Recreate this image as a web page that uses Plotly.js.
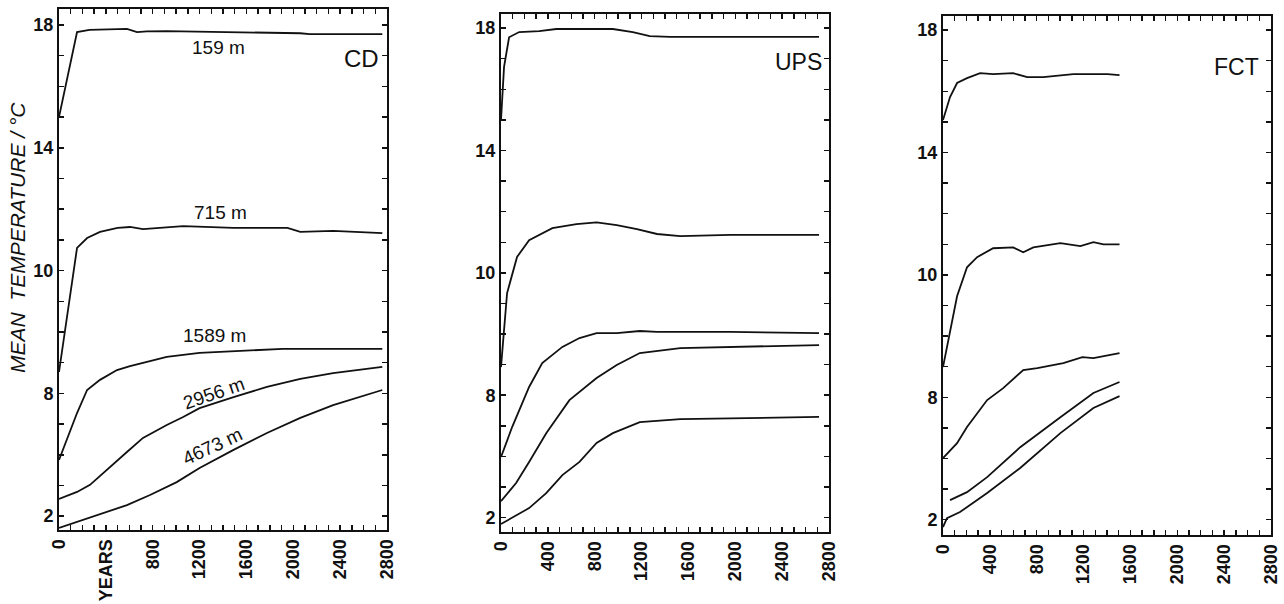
<!DOCTYPE html>
<html>
<head>
<meta charset="utf-8">
<script src="https://cdn.plot.ly/plotly-3.0.1.min.js"></script>
<style>html,body{margin:0;padding:0;background:#fff;}#chart{width:1284px;height:604px;}</style>
</head>
<body>
<div id="chart"></div>
<script>
// ---------------- DATA (years, mean temperature °C) ----------------
const panelNames = ["CD", "UPS", "FCT"];
const depthLabels = ["159 m", "715 m", "1589 m", "2956 m", "4673 m"];

// CD
const cdYears1 = [0, 154, 260, 580, 666, 750, 920, 1490, 2060, 2140, 2760];
const cdTemp1  = [15.0, 17.77, 17.84, 17.87, 17.77, 17.79, 17.8, 17.77, 17.73, 17.7, 17.7];
const cdYears2 = [0, 154, 240, 350, 500, 606, 717, 920, 1060, 1490, 1950, 2060, 2340, 2760];
const cdTemp2  = [6.7, 10.74, 11.06, 11.26, 11.39, 11.42, 11.35, 11.42, 11.45, 11.39, 11.39, 11.26, 11.29, 11.22];
const cdYears3 = [0, 154, 240, 350, 495, 606, 717, 920, 1200, 1490, 1910, 2340, 2760];
const cdTemp3  = [3.83, 5.36, 6.11, 6.44, 6.76, 6.89, 6.99, 7.19, 7.32, 7.38, 7.45, 7.45, 7.45];
const cdYears4 = [0, 154, 265, 410, 580, 717, 920, 1060, 1200, 1490, 1775, 2060, 2340, 2760];
const cdTemp4  = [2.56, 2.79, 3.02, 3.5, 4.09, 4.55, 4.97, 5.23, 5.52, 5.88, 6.21, 6.47, 6.66, 6.86];
const cdYears5 = [0, 154, 375, 580, 777, 1005, 1200, 1490, 1775, 2060, 2340, 2760];
const cdTemp5  = [1.62, 1.81, 2.1, 2.36, 2.69, 3.11, 3.57, 4.16, 4.71, 5.2, 5.62, 6.11];

// UPS
const upsYears1 = [0, 26, 69, 155, 326, 472, 670, 955, 1125, 1270, 1443, 1958, 2715];
const upsTemp1  = [15.0, 16.73, 17.7, 17.87, 17.9, 17.97, 17.97, 17.97, 17.87, 17.74, 17.71, 17.71, 17.71];
const upsYears2 = [0, 52, 137, 240, 438, 644, 816, 988, 1160, 1332, 1530, 1958, 2715];
const upsTemp2  = [6.92, 9.34, 10.52, 11.07, 11.46, 11.59, 11.65, 11.56, 11.43, 11.27, 11.2, 11.24, 11.24];
const upsYears3 = [0, 95, 240, 352, 524, 670, 816, 988, 1185, 1332, 1958, 2715];
const upsTemp3  = [3.98, 4.96, 6.27, 7.05, 7.58, 7.87, 8.03, 8.03, 8.1, 8.07, 8.07, 8.03];
const upsYears4 = [0, 129, 240, 386, 584, 816, 988, 1185, 1530, 1958, 2715];
const upsTemp4  = [2.54, 3.13, 3.82, 4.76, 5.84, 6.56, 6.99, 7.38, 7.54, 7.58, 7.64];
const upsYears5 = [0, 129, 240, 386, 524, 670, 816, 955, 1185, 1530, 1958, 2715];
const upsTemp5  = [1.79, 2.08, 2.31, 2.8, 3.39, 3.82, 4.44, 4.76, 5.12, 5.22, 5.25, 5.29];

// FCT
const fctYears1 = [0, 60, 120, 205, 317, 428, 599, 719, 856, 1002, 1113, 1284, 1404, 1507];
const fctTemp1  = [15.06, 15.81, 16.27, 16.43, 16.59, 16.56, 16.59, 16.46, 16.46, 16.53, 16.56, 16.56, 16.56, 16.53];
const fctYears2 = [0, 120, 205, 291, 428, 599, 685, 771, 1002, 1173, 1284, 1370, 1507];
const fctTemp2  = [6.99, 9.3, 10.25, 10.58, 10.87, 10.9, 10.74, 10.9, 11.04, 10.94, 11.07, 11.0, 11.0];
const fctYears3 = [0, 120, 205, 377, 514, 685, 805, 1027, 1190, 1284, 1507];
const fctTemp3  = [4.01, 4.5, 5.03, 5.91, 6.3, 6.89, 6.95, 7.12, 7.31, 7.28, 7.44];
const fctYears4 = [60, 205, 377, 659, 1002, 1284, 1507];
const fctTemp4  = [2.64, 2.9, 3.39, 4.37, 5.35, 6.14, 6.5];
const fctYears5 = [0, 34, 145, 377, 659, 1002, 1284, 1507];
const fctTemp5  = [1.76, 2.05, 2.25, 2.87, 3.69, 4.83, 5.65, 6.04];

// Axis ticks (labels as printed); tick marks every 100 years / every 1 °C
const yTickVals = [2, 3, 4, 5, 6, 7, 8, 9, 10, 11, 12, 13, 14, 15, 16, 17, 18];
const yTickText = ["2", "", "", "", "8", "", "", "", "10", "", "", "", "14", "", "", "", "18"];
const xTickVals = [0, 100, 200, 300, 400, 500, 600, 700, 800, 900, 1000, 1100, 1200, 1300, 1400,
                   1500, 1600, 1700, 1800, 1900, 2000, 2100, 2200, 2300, 2400, 2500, 2600, 2700, 2800];
const xTickTextCD = ["0", "", "", "", "YEARS", "", "", "", "800", "", "", "", "1200", "", "", "",
                     "1600", "", "", "", "2000", "", "", "", "2400", "", "", "", "2800"];
const xTickText = ["0", "", "", "", "400", "", "", "", "800", "", "", "", "1200", "", "", "",
                   "1600", "", "", "", "2000", "", "", "", "2400", "", "", "", "2800"];

// ---------------- PLOT ----------------
const W = 1284, H = 604;
const lineStyle = {color: "#111", width: 1.8};
const series = [
  [[cdYears1, cdTemp1], [cdYears2, cdTemp2], [cdYears3, cdTemp3], [cdYears4, cdTemp4], [cdYears5, cdTemp5]],
  [[upsYears1, upsTemp1], [upsYears2, upsTemp2], [upsYears3, upsTemp3], [upsYears4, upsTemp4], [upsYears5, upsTemp5]],
  [[fctYears1, fctTemp1], [fctYears2, fctTemp2], [fctYears3, fctTemp3], [fctYears4, fctTemp4], [fctYears5, fctTemp5]]
];
const traces = [];
series.forEach((grp, p) => {
  const sfx = p === 0 ? "" : String(p + 1);
  grp.forEach(([xs, ys]) => traces.push({
    x: xs, y: ys, type: "scatter", mode: "lines", line: lineStyle,
    xaxis: "x" + sfx, yaxis: "y" + sfx, showlegend: false, hoverinfo: "skip"
  }));
});

// pixel geometry of each panel: [left, right, top, bottom, yRange]
const geom = [
  [59, 387, 9, 530, [1.55, 18.52]],
  [501, 829, 14, 532, [1.53, 18.46]],
  [943, 1271, 16, 535, [1.50, 18.46]]
];
const FAM = "Liberation Sans, Arial, sans-serif";
const layout = {
  width: W, height: H, margin: {l: 0, r: 0, t: 0, b: 0},
  paper_bgcolor: "#fff", plot_bgcolor: "#fff", showlegend: false,
  annotations: [], font: {family: FAM, size: 18, color: "#111"}
};
geom.forEach((g, p) => {
  const sfx = p === 0 ? "" : String(p + 1);
  layout["xaxis" + sfx] = {
    domain: [g[0] / W, g[1] / W], range: [0, 2800], anchor: "y" + sfx,
    tickmode: "array", tickvals: xTickVals, ticktext: p === 0 ? xTickTextCD : xTickText,
    tickangle: -90, ticks: "inside", ticklen: 5, tickwidth: 1.5, tickcolor: "#111",
    showline: true, linecolor: "#111", linewidth: 2, mirror: "ticks",
    showgrid: false, zeroline: false, fixedrange: true,
    tickfont: {family: FAM, size: 18, color: "#111", weight: "bold"}
  };
  layout["yaxis" + sfx] = {
    domain: [1 - g[3] / H, 1 - g[2] / H], range: g[4], anchor: "x" + sfx,
    tickmode: "array", tickvals: yTickVals, ticktext: yTickText,
    ticks: "inside", ticklen: 5, tickwidth: 1.5, tickcolor: "#111",
    showline: true, linecolor: "#111", linewidth: 2, mirror: "ticks",
    showgrid: false, zeroline: false, fixedrange: true,
    tickfont: {family: FAM, size: 18, color: "#111", weight: "bold"}
  };
});

const A = layout.annotations;
const lblFont = {family: FAM, size: 19, color: "#111"};
// panel names
[[381, 58, 24], [824, 62, 23], [1261, 67, 23]].forEach((q, i) => A.push({
  xref: "paper", yref: "paper", x: q[0] / W, y: 1 - q[1] / H, xanchor: "right", yanchor: "middle",
  text: panelNames[i], showarrow: false, font: {family: FAM, size: q[2], color: "#111"}
}));
// depth labels in CD panel
[[218, 48, 0], [220, 213, 0], [214, 335, 0], [213, 393, -19], [212, 447, -25]].forEach((q, i) => A.push({
  xref: "paper", yref: "paper", x: q[0] / W, y: 1 - q[1] / H, xanchor: "center", yanchor: "middle",
  text: depthLabels[i], showarrow: false, textangle: q[2], font: lblFont
}));
// y-axis title
A.push({
  xref: "paper", yref: "paper", x: 17 / W, y: 1 - 238 / H, xanchor: "center", yanchor: "middle",
  text: "<i>MEAN  TEMPERATURE / °C</i>", showarrow: false, textangle: -90,
  font: {family: FAM, size: 21, color: "#111"}
});

Plotly.newPlot("chart", traces, layout, {staticPlot: true, displayModeBar: false});
</script>
</body>
</html>
